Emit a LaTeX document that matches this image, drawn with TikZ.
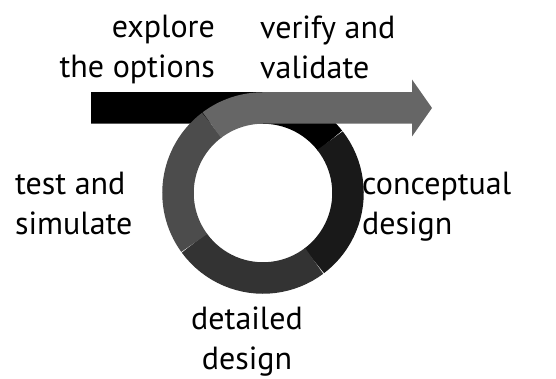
\documentclass[tikz,border=0pt]{standalone}
\usepackage{fontspec}
\setmainfont{PT Sans}
\begin{document}
\begin{tikzpicture}[x=1pt,y=1pt]
  \tikzset{ lbl/.style={inner sep=0pt,font=\fontsize{32}{40}\selectfont},
    band/.style={line width=31.5pt},
  }
  \useasboundingbox (0,0) rectangle (556,379);
  \coordinate (c) at (263,186);
  \coordinate (start) at (91,271);
  \coordinate (top) at (263,271);
  \coordinate (base) at (412,271);
  \coordinate (tip) at (432,271);

  % the black lead-in and the ring
  \draw[band,black] (start) -- (top) arc[start angle=90,end angle=38,radius=85];
  \draw[band,black!90] (c) ++(38:85) arc[start angle=38,end angle=-53,radius=85];
  \draw[band,black!80] (c) ++(-53:85) arc[start angle=-53,end angle=-144,radius=85];
  \draw[band,black!70] (c) ++(216:85) arc[start angle=216,end angle=127,radius=85];
  % the way out
  \draw[band,black!60] (c) ++(127:85) arc[start angle=127,end angle=90,radius=85] -- (base);
  \fill[black!60] ([yshift=28.5pt]base) -- (tip) -- ([yshift=-28.5pt]base) -- cycle;

  \node[lbl,anchor=base east,align=right] (explore) at (215,301) {explore\\the options};
  \node[lbl,anchor=base west,align=left] (verify) at (260,300) {verify and\\validate};
  \node[lbl,anchor=base west,align=left] (test) at (15,144) {test and\\simulate};
  \node[lbl,anchor=base west,align=left] (concept) at (362,144) {conceptual\\design};
  \node[lbl,anchor=base,align=center] (detail) at (247,9) {detailed\\design};
\end{tikzpicture}
\end{document}
